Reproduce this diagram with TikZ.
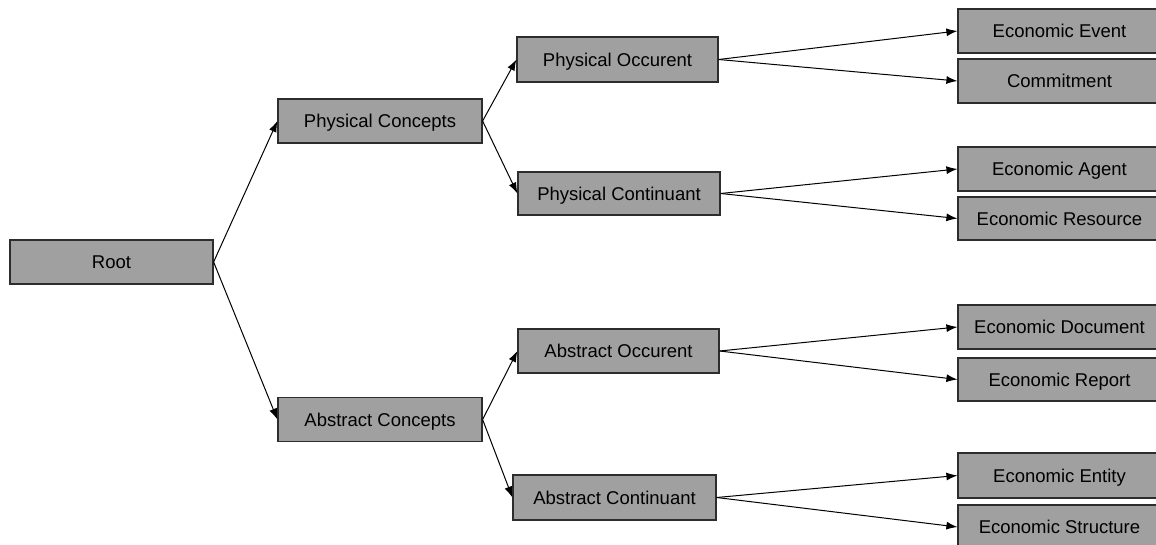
\documentclass[tikz,border=0pt]{standalone}
\usepackage{fontspec}
\setmainfont{Liberation Sans}
\usetikzlibrary{arrows.meta}
\definecolor{boxfill}{RGB}{160,160,160}
\definecolor{boxedge}{RGB}{45,45,45}
\begin{document}
\begin{tikzpicture}[x=1pt,y=-1pt,
  box/.style={draw=boxedge,line width=1.2pt,fill=boxfill,rectangle,
    minimum width=203pt,minimum height=44pt,inner sep=0pt,
    text height=13.3pt,text depth=0pt,
    font=\fontsize{18.5}{22}\selectfont},
  link/.style={draw=black,line width=1pt,-{Latex[length=11pt,width=8pt]}}]
\useasboundingbox (0,0) rectangle (1156,545);
\begin{scope}
\clip (0,0) rectangle (1156,545);
% level 0
\node[box] (root) at (111.5,262) {Root};
% level 1
\node[box,minimum width=204pt] (phys) at (380,121) {Physical Concepts};
\node[box,minimum width=204pt] (abst) at (380,419.5) {Abstract Concepts};
% level 2
\node[box,minimum width=201pt,minimum height=45pt] (pocc) at (617.5,59.5) {Physical Occurent};
\node[box,minimum width=202pt,minimum height=43pt] (pcon) at (619,193.5) {Physical Continuant};
\node[box,minimum width=201pt] (aocc) at (618.5,351) {Abstract Occurent};
\node[box,minimum width=203pt,minimum height=45pt] (acon) at (614.5,497.5) {Abstract Continuant};
% level 3
\node[box] (evt) at (1059.5,31) {Economic Event};
\node[box] (com) at (1059.5,81) {Commitment};
\node[box] (agt) at (1059.5,169) {Economic Agent};
\node[box,minimum height=43pt] (res) at (1059.5,218.5) {Economic Resource};
\node[box] (doc) at (1059.5,327) {Economic Document};
\node[box,minimum height=43pt] (rep) at (1059.5,379.5) {Economic Report};
\node[box,minimum height=45pt] (ent) at (1059.5,475.5) {Economic Entity};
\node[box] (str) at (1059.5,527) {Economic Structure};
% connectors
\draw[link] (root.east) -- (phys.west);
\draw[link] (root.east) -- (abst.west);
\draw[link] (phys.east) -- (pocc.west);
\draw[link] (phys.east) -- (pcon.west);
\draw[link] (abst.east) -- (aocc.west);
\draw[link] (abst.east) -- (acon.west);
\draw[link] (pocc.east) -- (evt.west);
\draw[link] (pocc.east) -- (com.west);
\draw[link] (pcon.east) -- (agt.west);
\draw[link] (pcon.east) -- (res.west);
\draw[link] (aocc.east) -- (doc.west);
\draw[link] (aocc.east) -- (rep.west);
\draw[link] (acon.east) -- (ent.west);
\draw[link] (acon.east) -- (str.west);
\end{scope}
\end{tikzpicture}
\end{document}
